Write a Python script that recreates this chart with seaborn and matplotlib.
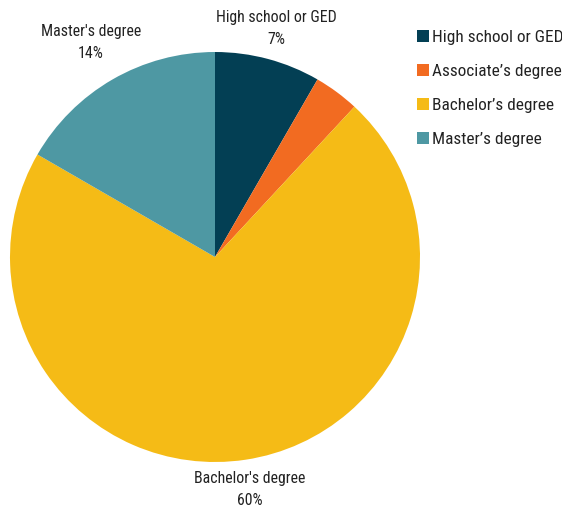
import numpy as np
import matplotlib
matplotlib.use("Agg")
import matplotlib.pyplot as plt
import seaborn as sns

# data
categories = ["High school or GED", "Associate\u2019s degree", "Bachelor\u2019s degree", "Master\u2019s degree"]
slice_labels = ["High school or GED", "Associate's degree", "Bachelor's degree", "Master's degree"]
shares = [7, 3, 60, 14]
colors = ["#033f54", "#f26b21", "#f5bb16", "#4e98a3"]

sns.set_style("white")
plt.rcParams["font.family"] = ["Roboto Condensed", "Liberation Sans Narrow", "Roboto", "DejaVu Sans"]

fig = plt.figure(figsize=(5.62, 5.08), dpi=100)
# pie centred at ~(215, 257) px with radius ~205 px
ax = fig.add_axes([10 / 562, 46 / 508, 410 / 562, 410 / 508])

wedges, _ = ax.pie(shares, colors=colors, startangle=90, counterclock=False,
                   radius=1, wedgeprops=dict(linewidth=0))
ax.set_xlim(-1, 1)
ax.set_ylim(-1, 1)
ax.set_aspect("equal")
ax.axis("off")

# outside labels, skip tiny slices
for w, lab, val in zip(wedges, slice_labels, shares):
    if val < 5:
        continue
    ang = np.deg2rad((w.theta1 + w.theta2) / 2)
    r = 1.11 + 0.24 * abs(np.cos(ang))
    if np.sin(ang) > 0:
        r -= 0.02  # labels above the pie sit a bit closer
    ax.text(r * np.cos(ang), r * np.sin(ang), f"{lab}\n{val}%",
            ha="center", va="center", fontsize=11.4, color="#222222",
            linespacing=1.6, clip_on=False)

leg = fig.legend(wedges, categories, loc="upper left",
                 bbox_to_anchor=(410 / 562, 1 - 23 / 508), frameon=False,
                 fontsize=12.4, handlelength=0.68, handleheight=0.68,
                 handletextpad=0.2, labelspacing=1.1, borderaxespad=0,
                 labelcolor="#222222")

fig.savefig("out.png", dpi=100)
